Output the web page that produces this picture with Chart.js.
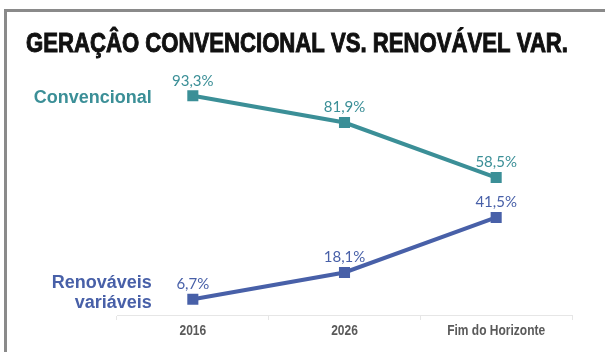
<!DOCTYPE html>
<html>
<head>
<meta charset="utf-8">
<script src="https://cdn.jsdelivr.net/npm/chart.js@4.4.1/dist/chart.umd.min.js"></script>
<style>
  html, body { margin: 0; padding: 0; background: #fff; }
  #wrap { position: relative; width: 605px; height: 352px; overflow: hidden; }
  #frame {
    position: absolute; left: 4px; top: 9px; width: 700px; height: 400px;
    border-top: 3px solid #8a8a8a; border-left: 3px solid #8a8a8a;
  }
  #myChart { position: absolute; left: 0; top: 0; }
</style>
</head>
<body>
<div id="wrap">
  <div id="frame"></div>
  <canvas id="myChart" width="605" height="352"></canvas>
</div>
<script>
// categories and series
const title = 'GERAÇÂO CONVENCIONAL VS. RENOVÁVEL VAR.';
const categories = ['2016', '2026', 'Fim do Horizonte'];
const seriesNames = [['Convencional'], ['Renováveis', 'variáveis']];
const convencional = [93.3, 81.9, 58.5];
const renovaveis = [6.7, 18.1, 41.5];

const teal = '#3b8f97';
const blue = '#4860a8';

function pct(v) {
  return v.toFixed(1).replace('.', ',') + '%';
}

// draws text squeezed horizontally (no narrow font installed)
function narrowText(ctx, text, x, y, sx, align) {
  const w = ctx.measureText(text).width * sx;
  let left = x;
  if (align === 'center') left = x - w / 2;
  if (align === 'right') left = x - w;
  ctx.save();
  ctx.translate(left, y);
  ctx.scale(sx, 1);
  ctx.textAlign = 'left';
  ctx.fillText(text, 0, 0);
  ctx.restore();
}

// title, x tick labels, value labels and series names
const labelsPlugin = {
  id: 'labelsPlugin',
  afterDraw(chart) {
    const ctx = chart.ctx;
    ctx.save();

    // title, stretched to its box
    ctx.fillStyle = '#111';
    ctx.strokeStyle = '#111';
    ctx.lineWidth = 1;
    ctx.font = 'bold 27px "Liberation Sans"';
    ctx.textBaseline = 'alphabetic';
    const tw = ctx.measureText(title).width;
    ctx.save();
    ctx.translate(26, 52);
    ctx.scale(542 / tw, 1);
    ctx.fillText(title, 0, 0);
    ctx.strokeText(title, 0, 0);
    ctx.restore();

    // category labels under the axis
    const xs = chart.scales.x;
    ctx.fillStyle = '#5a5a5a';
    ctx.font = 'bold 15px "Liberation Sans"';
    ctx.textBaseline = 'middle';
    categories.forEach((c, i) => {
      narrowText(ctx, c, xs.getPixelForValue(i), xs.bottom + 11, 0.8, 'center');
    });

    chart.data.datasets.forEach((ds, i) => {
      const meta = chart.getDatasetMeta(i);
      ctx.fillStyle = ds.borderColor;
      ctx.font = '15px Lato';
      ctx.textAlign = 'center';
      ctx.textBaseline = 'middle';
      meta.data.forEach((pt, j) => {
        ctx.fillText(pct(ds.data[j]), pt.x, pt.y - 15);
      });

      // series name
      const first = meta.data[0];
      const lines = seriesNames[i];
      ctx.font = 'bold 18px "Liberation Sans"';
      ctx.textAlign = 'right';
      ctx.textBaseline = 'alphabetic';
      const x = first.x - 41;
      if (lines.length === 1) {
        ctx.fillText(lines[0], x, first.y + 7);
      } else {
        ctx.fillText(lines[0], x, first.y - 11);
        ctx.fillText(lines[1], x, first.y + 9);
      }
    });
    ctx.restore();
  }
};

const data = {
  labels: categories,
  datasets: [{
    label: seriesNames[0].join(' '),
    data: convencional,
    borderColor: teal,
    backgroundColor: teal,
    borderWidth: 4,
    pointStyle: 'rect',
    pointRadius: 5,
    pointHoverRadius: 5
  }, {
    label: seriesNames[1].join(' '),
    data: renovaveis,
    borderColor: blue,
    backgroundColor: blue,
    borderWidth: 4,
    pointStyle: 'rect',
    pointRadius: 5,
    pointHoverRadius: 5
  }]
};

const config = {
  type: 'line',
  data,
  plugins: [labelsPlugin],
  options: {
    responsive: false,
    animation: false,
    layout: {
      padding: { left: 117, right: 33, top: 80, bottom: 32 }
    },
    plugins: {
      legend: { display: false },
      tooltip: { enabled: false }
    },
    scales: {
      x: {
        offset: true,
        grid: {
          offset: true,
          drawOnChartArea: false,
          tickLength: 5,
          color: '#e6e6e6'
        },
        border: { color: '#e6e6e6' },
        ticks: { display: false }
      },
      y: {
        display: false,
        min: 0,
        max: 100
      }
    }
  }
};

const myChart = new Chart(document.getElementById('myChart'), config);
</script>
</body>
</html>
